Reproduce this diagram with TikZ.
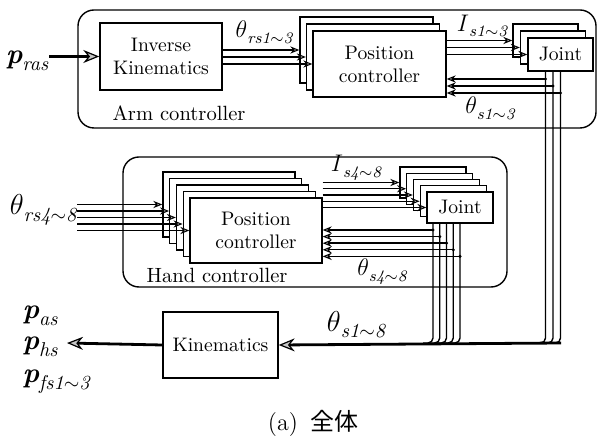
\documentclass[tikz,border=0pt]{standalone}
\usepackage{fontspec}
\newfontfamily\cjk{Noto Sans CJK JP}
\usetikzlibrary{arrows.meta,calc}
\newcommand{\lowsub}[2][8pt]{\raisebox{-0.55ex}{\fontsize{#1}{#1}\selectfont\itshape #2}}

\begin{document}
\begin{tikzpicture}[x=0.5pt,y=-0.5pt,line width=0.7pt,
  blk/.style={draw,fill=white,inner sep=0pt,align=center,font=\fontsize{9.8}{11.5}\selectfont},
  apc/.style={blk,minimum width=66.5pt,minimum height=33pt},
  ajt/.style={blk,minimum width=32.5pt,minimum height=16.5pt},
  hpc/.style={blk,minimum width=66pt,minimum height=32.5pt},
  hjt/.style={blk,minimum width=33pt,minimum height=15.5pt},
  sig/.style={-{Stealth[length=4.5pt,width=3.6pt,fill=gray!45,line width=0.5pt]}},
  bus/.style={line width=1.4pt,-{Stealth[length=8pt,width=6.5pt,fill=gray!45,line width=0.6pt]}},
  lab/.style={inner sep=0pt,font=\fontsize{12.5}{12.5}\selectfont\itshape},
  plab/.style={lab,font=\fontsize{14}{14}\selectfont\bfseries\itshape}]
\useasboundingbox (0,0) rectangle (598,437);
\draw[rounded corners=8pt] (78,10) rectangle (596,128);
\draw[rounded corners=8pt] (123,157) rectangle (507,287);
\node[inner sep=0pt,font=\fontsize{10.3}{11}\selectfont] (armlab) at (179,113) {Arm controller};
\node[inner sep=0pt,font=\fontsize{10.3}{11}\selectfont] (handlab) at (217,275) {Hand controller};

\node[blk,minimum width=61pt,minimum height=33.5pt] (ik) at (161,56.5) {Inverse\\Kinematics};
\node[blk,minimum width=57.5pt,minimum height=33pt] (kin) at (220.5,345) {Kinematics};

\foreach \i in {1,2}{
  \node[apc] (pcA\i) at ({366.5+6.5*(\i-1)},{50+7*(\i-1)}) {};
  \node[ajt] (jtA\i) at ({545.5+7.5*(\i-1)},{40.5+7*(\i-1)}) {};
}
\node[apc] (pcA3) at (379.5,64) {Position\\controller};
\node[ajt] (jtA3) at (560.5,54.5) {Joint};

\foreach \i in {1,...,4}{
  \node[hpc] (pcH\i) at ({229+6.75*(\i-1)},{204.5+6.5*(\i-1)}) {};
  \node[hjt] (jtH\i) at ({433+6.75*(\i-1)},{182.5+6.25*(\i-1)}) {};
}
\node[hpc] (pcH5) at (256,230.5) {Position\\controller};
\node[hjt] (jtH5) at (460,207.5) {Joint};

\node[plab,anchor=east] (pras) at (49,61) {p\lowsub[10pt]{\mdseries ras}};
\draw[bus] (pras.east |- ik.west) -- (ik.west);

\node[lab] (thA) at (264,32) {$\theta$\lowsub{rs1$\sim$3}};
\node[lab] (curA) at (482,26) {$I$\lowsub{s1$\sim$3}};
\node[lab] (fbAlab) at (490,108) {$\theta$\lowsub{s1$\sim$3}};
\node[lab,anchor=east,font=\fontsize{13.5}{13.5}\selectfont\itshape] (thH) at (77,210) {$\theta$\lowsub[10pt]{rs4$\sim$8}};
\node[lab] (curH) at (356,168) {$I$\lowsub{s4$\sim$8}};
\node[lab] (fbHlab) at (382,272) {$\theta$\lowsub{s4$\sim$8}};
\node[lab,font=\fontsize{13.5}{13.5}\selectfont\itshape] (thall) at (356,325) {$\theta$\lowsub[10pt]{s1$\sim$8}};

\foreach \i in {1,2,3}{
  \draw[sig] (ik.east |- pcA\i.west) -- (pcA\i.west);
  \draw[sig] (pcA3.east |- jtA\i.west) -- (jtA\i.west);
  \pgfmathsetmacro{\yy}{79+7*(\i-1)}
  \coordinate (fbA\i) at (jtA\i.south |- 0,\yy);
  \fill (fbA\i) circle (1.7);
  \draw[sig] (fbA\i) -- (pcA3.east |- fbA\i);
}
\foreach \i in {1,...,5}{
  \draw[sig] (thH.east |- pcH\i.west) -- (pcH\i.west);
  \draw[sig] (pcH5.east |- jtH\i.west) -- (jtH\i.west);
  \pgfmathsetmacro{\yy}{230+6.6*(\i-1)}
  \coordinate (fbH\i) at (jtH\i.south |- 0,\yy);
  \fill (fbH\i) circle (1.7);
  \draw[sig] (fbH\i) -- (pcH5.east |- fbH\i);
}

\coordinate (busR) at (561,343);
\coordinate (outL) at (67,343);
\foreach \i in {1,2,3}
  \draw[rounded corners=2.5pt] (jtA\i.south |- jtA3.south) |- ($(jtA\i.south |- busR)+(-10,0)$);
\foreach \i in {1,...,5}
  \draw[rounded corners=2.5pt] (jtH\i.south |- jtH5.south) |- ($(jtH\i.south |- busR)+(-10,0)$);
\draw[bus] (busR) -- (kin.east);
\draw[bus] (kin.west) -- (outL);

\node[plab,anchor=west] (pas) at (22,316) {p\lowsub[10pt]{\mdseries as}};
\node[plab,anchor=west] (phs) at (22,347) {p\lowsub[10pt]{\mdseries hs}};
\node[plab,anchor=west] (pfs) at (22,382) {p\lowsub[10pt]{\mdseries fs1$\sim$3}};

\node[inner sep=0pt,font=\fontsize{12}{12}\selectfont] (cap) at (313,423) {(a)\hspace{6pt}{\cjk 全体}};
\end{tikzpicture}
\end{document}
